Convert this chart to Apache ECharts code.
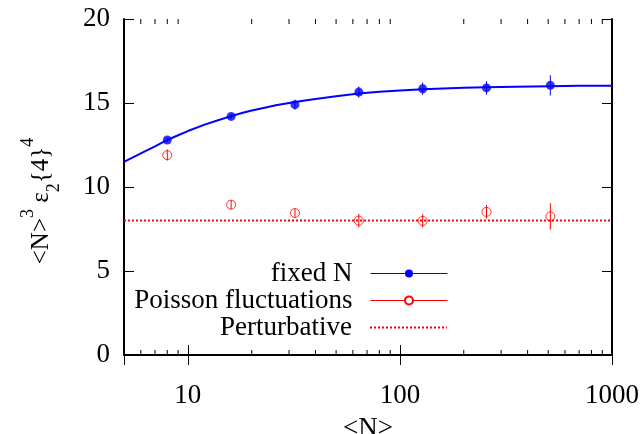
<!DOCTYPE html>
<html>
<head>
<meta charset="utf-8">
<script src="https://cdn.jsdelivr.net/npm/echarts@6/dist/echarts.min.js"></script>
<style>
  html, body { margin: 0; padding: 0; background: #fff; }
  #main { width: 644px; height: 434px; }
</style>
</head>
<body>
<div id="main"></div>
<script>
// <N> values of the simulated points
var nVals = [8, 16, 32, 64, 128, 256, 512];
// fixed N
var fixedVals = [12.8, 14.2, 14.9, 15.65, 15.85, 15.9, 16.05];
var fixedErr = [0.15, 0.15, 0.3, 0.33, 0.37, 0.4, 0.6];
// Poisson fluctuations
var poissonVals = [11.9, 8.95, 8.45, 8.0, 7.98, 8.52, 8.25];
var poissonErr = [0.33, 0.27, 0.26, 0.4, 0.4, 0.4, 0.78];
// fit curve through the fixed N points
var curveN = [5, 6, 7, 8, 9, 10, 12, 14, 16, 18, 20, 23, 26, 30, 35, 40, 50, 64, 80, 100, 128, 160, 200, 256, 350, 512, 700, 1000];
var curveVals = [11.5, 12.0, 12.42, 12.8, 13.08, 13.33, 13.71, 13.99, 14.22, 14.4, 14.55, 14.72, 14.86, 15.0, 15.13, 15.24, 15.4, 15.56, 15.67, 15.75, 15.82, 15.87, 15.91, 15.94, 15.97, 16.0, 16.02, 16.03];
// perturbative limit
var pertN = [5, 1000];
var pertVals = [8, 8];
// log axis minor ticks
var minorTicks = [6, 7, 8, 9, 20, 30, 40, 50, 60, 70, 80, 90, 200, 300, 400, 500, 600, 700, 800, 900];

var FONT = 'Liberation Serif';
var FS = 27;
var BLUE = '#0000ff';
var RED = '#ff0000';

function pairs(xs, ys) {
    return xs.map(function (x, i) { return [x, ys[i]]; });
}
function errData(xs, ys, es) {
    return xs.map(function (x, i) { return [x, ys[i], es[i]]; });
}
function errBars(color) {
    return function (params, api) {
        var x = api.value(0), y = api.value(1), e = api.value(2);
        var p1 = api.coord([x, y - e]);
        var p2 = api.coord([x, y + e]);
        return {
            type: 'line',
            shape: { x1: p1[0], y1: p1[1], x2: p2[0], y2: p2[1] },
            style: { stroke: color, lineWidth: 1 }
        };
    };
}
function legendAt(top, item) {
    return {
        right: 196, top: top, orient: 'vertical', align: 'right',
        itemWidth: 77, itemHeight: 10, padding: 0,
        textStyle: { fontFamily: FONT, fontSize: FS, color: '#000', padding: [0, 13, 0, 0] },
        data: [item]
    };
}

var myChart = echarts.init(document.getElementById('main'));

var axisLine = { show: true, lineStyle: { color: '#000', width: 2 } };
var axisTick = { inside: true, length: 10, lineStyle: { color: '#000', width: 1 } };
var option = {
    animation: false,
    grid: { left: 124, right: 32, top: 19, bottom: 79, outerBoundsMode: 'none' },
    xAxis: [
        {
            type: 'log', logBase: 10, min: 5, max: 1000,
            name: '<N>', nameLocation: 'middle', nameGap: 60,
            nameTextStyle: { fontFamily: FONT, fontSize: FS, color: '#000' },
            axisLine: axisLine,
            axisTick: axisTick,
            axisLabel: {
                fontFamily: FONT, fontSize: FS, color: '#000', margin: 27, showMinLabel: false,
                formatter: function (v) { return String(Math.round(v)); }
            },
            splitLine: { show: false }
        },
        {
            type: 'log', logBase: 10, min: 5, max: 1000, position: 'top',
            axisLine: axisLine,
            axisTick: axisTick,
            axisLabel: { show: false },
            splitLine: { show: false }
        }
    ],
    yAxis: [
        {
            type: 'value', min: 0, max: 20, interval: 5,
            name: '<N>{sup|3} ε{sub|2}{4}{sup|4}', nameLocation: 'middle', nameGap: 61,
            nameTextStyle: {
                fontFamily: FONT, fontSize: 25, color: '#000', lineHeight: 44, padding: [0, 28, 0, 0],
                rich: {
                    sup: { fontFamily: FONT, fontSize: 18, color: '#000', verticalAlign: 'top', lineHeight: 18 },
                    sub: { fontFamily: FONT, fontSize: 18, color: '#000', verticalAlign: 'bottom', lineHeight: 18 }
                }
            },
            axisLine: axisLine,
            axisTick: axisTick,
            axisLabel: { fontFamily: FONT, fontSize: FS, color: '#000', margin: 14 },
            splitLine: { show: false }
        },
        {
            type: 'value', min: 0, max: 20, interval: 5, position: 'right',
            axisLine: axisLine,
            axisTick: axisTick,
            axisLabel: { show: false },
            splitLine: { show: false }
        }
    ],
    legend: [
        legendAt(260, { name: 'fixed N', lineStyle: { color: BLUE, width: 1 } }),
        legendAt(287, { name: 'Poisson fluctuations', lineStyle: { color: RED, width: 1 } }),
        legendAt(314, { name: 'Perturbative', itemStyle: { opacity: 0 } })
    ],
    series: [
        {
            name: 'minor ticks', type: 'custom', silent: true,
            data: minorTicks.map(function (v) { return [v]; }),
            renderItem: function (params, api) {
                var b = api.coord([api.value(0), 0]);
                var t = api.coord([api.value(0), 20]);
                return {
                    type: 'group',
                    children: [
                        { type: 'line', shape: { x1: b[0], y1: b[1], x2: b[0], y2: b[1] - 5 }, style: { stroke: '#000', lineWidth: 1 } },
                        { type: 'line', shape: { x1: t[0], y1: t[1], x2: t[0], y2: t[1] + 5 }, style: { stroke: '#000', lineWidth: 1 } }
                    ]
                };
            }
        },
        {
            name: 'Perturbative', type: 'line', symbol: 'none',
            data: pairs(pertN, pertVals),
            itemStyle: { color: RED },
            lineStyle: { color: RED, width: 2, type: 'dotted' }
        },
        {
            name: 'fixed N', type: 'line', smooth: false, symbol: 'circle', symbolSize: 9, showSymbol: false,
            data: pairs(curveN, curveVals),
            itemStyle: { color: BLUE },
            lineStyle: { color: BLUE, width: 2 }
        },
        {
            name: 'Poisson fluctuations', type: 'line', symbol: 'circle', symbolSize: 9, showSymbol: false,
            data: [],
            itemStyle: { color: '#fff', borderColor: RED, borderWidth: 1 },
            lineStyle: { color: RED, width: 1 }
        },
        {
            name: 'fixed N err', type: 'custom', data: errData(nVals, fixedVals, fixedErr),
            renderItem: errBars(BLUE)
        },
        {
            name: 'Poisson err', type: 'custom', data: errData(nVals, poissonVals, poissonErr),
            renderItem: errBars(RED)
        },
        {
            name: 'fixed N pts', type: 'scatter', symbol: 'circle', symbolSize: 9,
            data: pairs(nVals, fixedVals),
            itemStyle: { color: BLUE }
        },
        {
            name: 'Poisson pts', type: 'scatter', symbol: 'circle', symbolSize: 9,
            data: pairs(nVals, poissonVals),
            itemStyle: { color: 'transparent', borderColor: RED, borderWidth: 1 }
        }
    ]
};
myChart.setOption(option);
</script>
</body>
</html>
